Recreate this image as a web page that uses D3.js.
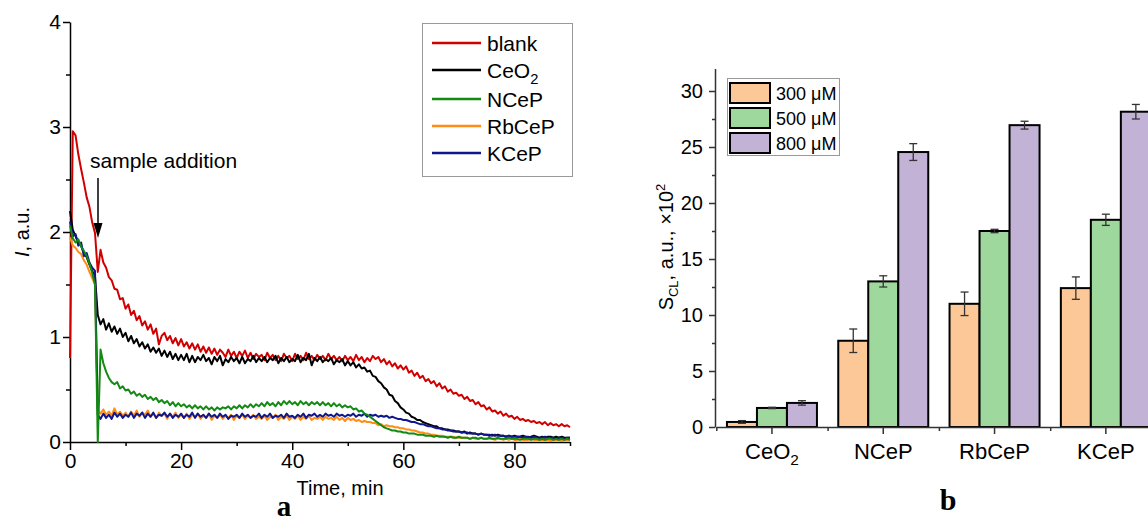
<!DOCTYPE html>
<html>
<head>
<meta charset="utf-8">
<script src="https://cdn.jsdelivr.net/npm/d3@7"></script>
<style>
  body { margin: 0; background: #fff; }
  svg { font-family: "Liberation Sans", Arial, sans-serif; }
</style>
</head>
<body>
<svg id="fig" width="1148" height="524"></svg>
<script>
// ---------- panel a: chemiluminescence kinetics, one reading every 0.5 min ----------
const timeStep = 0.5;

const blank = [
  0.80, 2.96, 2.92, 2.74, 2.60, 2.47, 2.33, 2.24, 2.09, 1.99,
  1.62, 1.83, 1.71, 1.66, 1.57, 1.54, 1.46, 1.45, 1.36, 1.37,
  1.27, 1.31, 1.21, 1.25, 1.16, 1.20, 1.11, 1.15, 1.07, 1.12,
  1.03, 1.08, 0.93, 1.01, 1.04, 0.97, 1.01, 0.94, 0.99, 0.92,
  0.98, 0.91, 0.95, 0.89, 0.94, 0.88, 0.93, 0.86, 0.91, 0.85,
  0.90, 0.84, 0.89, 0.83, 0.88, 0.85, 0.81, 0.88, 0.82, 0.86,
  0.80, 0.86, 0.82, 0.87, 0.80, 0.85, 0.79, 0.84, 0.81, 0.83,
  0.78, 0.85, 0.80, 0.83, 0.78, 0.82, 0.77, 0.84, 0.80, 0.82,
  0.77, 0.84, 0.79, 0.82, 0.78, 0.85, 0.79, 0.82, 0.78, 0.83,
  0.79, 0.82, 0.78, 0.84, 0.79, 0.82, 0.78, 0.81, 0.77, 0.82,
  0.78, 0.81, 0.77, 0.83, 0.78, 0.81, 0.76, 0.80, 0.77, 0.82,
  0.79, 0.81, 0.76, 0.79, 0.74, 0.77, 0.72, 0.75, 0.70, 0.73,
  0.69, 0.72, 0.66, 0.68, 0.63, 0.66, 0.61, 0.63, 0.58, 0.60,
  0.56, 0.58, 0.53, 0.56, 0.51, 0.53, 0.48, 0.50, 0.46, 0.47,
  0.44, 0.45, 0.41, 0.43, 0.39, 0.40, 0.36, 0.38, 0.34, 0.35,
  0.31, 0.33, 0.29, 0.30, 0.27, 0.29, 0.25, 0.27, 0.24, 0.25,
  0.22, 0.24, 0.21, 0.22, 0.20, 0.21, 0.19, 0.20, 0.18, 0.19,
  0.17, 0.19, 0.16, 0.18, 0.16, 0.17, 0.15, 0.17, 0.15, 0.16,
  0.14
];

const ceo2 = [
  2.20, 2.02, 1.96, 1.90, 1.87, 1.80, 1.76, 1.69, 1.63, 1.58,
  1.21, 1.12, 1.17, 1.07, 1.13, 1.05, 1.10, 1.03, 1.08, 1.00,
  1.04, 0.96, 1.01, 0.94, 0.98, 0.91, 0.95, 0.89, 0.93, 0.86,
  0.90, 0.85, 0.89, 0.82, 0.87, 0.81, 0.86, 0.79, 0.84, 0.78,
  0.83, 0.78, 0.84, 0.76, 0.82, 0.76, 0.81, 0.78, 0.83, 0.77,
  0.80, 0.74, 0.81, 0.77, 0.82, 0.73, 0.79, 0.76, 0.81, 0.77,
  0.80, 0.75, 0.81, 0.75, 0.79, 0.77, 0.82, 0.76, 0.80, 0.77,
  0.81, 0.76, 0.80, 0.78, 0.82, 0.75, 0.80, 0.77, 0.81, 0.76,
  0.79, 0.77, 0.83, 0.76, 0.80, 0.78, 0.84, 0.73, 0.80, 0.77,
  0.81, 0.76, 0.79, 0.77, 0.80, 0.74, 0.78, 0.76, 0.79, 0.73,
  0.77, 0.73, 0.76, 0.71, 0.74, 0.70, 0.71, 0.67, 0.68, 0.63,
  0.62, 0.58, 0.56, 0.52, 0.50, 0.45, 0.44, 0.39, 0.37, 0.33,
  0.31, 0.28, 0.27, 0.24, 0.23, 0.21, 0.21, 0.19, 0.18, 0.17,
  0.16, 0.15, 0.15, 0.13, 0.13, 0.12, 0.12, 0.11, 0.11, 0.10,
  0.10, 0.09, 0.10, 0.08, 0.09, 0.08, 0.08, 0.07, 0.08, 0.07,
  0.07, 0.06, 0.07, 0.06, 0.07, 0.06, 0.06, 0.05, 0.06, 0.05,
  0.06, 0.05, 0.05, 0.06, 0.05, 0.04, 0.05, 0.06, 0.05, 0.04,
  0.05, 0.04, 0.05, 0.05, 0.04, 0.05, 0.04, 0.05, 0.04, 0.04,
  0.04
];

const ncep = [
  2.06, 1.94, 1.90, 1.93, 1.86, 1.82, 1.77, 1.70, 1.61, 1.50,
  0.00, 0.88, 0.75, 0.67, 0.61, 0.57, 0.55, 0.57, 0.51, 0.53,
  0.49, 0.50, 0.46, 0.48, 0.44, 0.46, 0.43, 0.45, 0.41, 0.43,
  0.40, 0.42, 0.38, 0.40, 0.37, 0.39, 0.35, 0.38, 0.34, 0.37,
  0.34, 0.36, 0.33, 0.35, 0.32, 0.35, 0.32, 0.34, 0.31, 0.34,
  0.31, 0.33, 0.30, 0.33, 0.31, 0.33, 0.32, 0.34, 0.31, 0.34,
  0.32, 0.35, 0.32, 0.35, 0.33, 0.36, 0.33, 0.36, 0.34, 0.37,
  0.34, 0.38, 0.35, 0.37, 0.34, 0.38, 0.35, 0.39, 0.36, 0.39,
  0.36, 0.38, 0.35, 0.39, 0.36, 0.38, 0.35, 0.38, 0.36, 0.38,
  0.35, 0.38, 0.35, 0.37, 0.34, 0.37, 0.34, 0.36, 0.33, 0.35,
  0.33, 0.34, 0.31, 0.32, 0.29, 0.30, 0.27, 0.26, 0.24, 0.22,
  0.20, 0.18, 0.16, 0.14, 0.13, 0.12, 0.11, 0.11, 0.10, 0.10,
  0.09, 0.09, 0.08, 0.08, 0.08, 0.07, 0.07, 0.07, 0.06, 0.06,
  0.06, 0.05, 0.06, 0.05, 0.05, 0.05, 0.04, 0.05, 0.04, 0.04,
  0.05, 0.04, 0.04, 0.04, 0.03, 0.04, 0.04, 0.03, 0.04, 0.03,
  0.03, 0.04, 0.03, 0.03, 0.04, 0.03, 0.03, 0.03, 0.04, 0.03,
  0.03, 0.03, 0.02, 0.03, 0.03, 0.03, 0.02, 0.03, 0.03, 0.02,
  0.03, 0.02, 0.03, 0.03, 0.02, 0.03, 0.02, 0.03, 0.02, 0.03,
  0.02
];

const rbcep = [
  1.95, 1.87, 1.85, 1.81, 1.79, 1.73, 1.69, 1.62, 1.56, 1.50,
  0.30, 0.27, 0.31, 0.26, 0.29, 0.25, 0.32, 0.26, 0.29, 0.25,
  0.28, 0.24, 0.29, 0.25, 0.30, 0.24, 0.28, 0.26, 0.30, 0.24,
  0.27, 0.23, 0.28, 0.25, 0.27, 0.22, 0.27, 0.24, 0.28, 0.23,
  0.26, 0.23, 0.27, 0.22, 0.26, 0.24, 0.27, 0.22, 0.25, 0.23,
  0.27, 0.21, 0.25, 0.23, 0.26, 0.22, 0.25, 0.23, 0.26, 0.21,
  0.25, 0.23, 0.26, 0.22, 0.25, 0.23, 0.26, 0.22, 0.24, 0.22,
  0.25, 0.21, 0.24, 0.23, 0.26, 0.21, 0.24, 0.22, 0.25, 0.21,
  0.24, 0.22, 0.25, 0.21, 0.24, 0.22, 0.25, 0.21, 0.23, 0.22,
  0.24, 0.21, 0.24, 0.22, 0.23, 0.21, 0.24, 0.21, 0.23, 0.20,
  0.23, 0.21, 0.22, 0.20, 0.21, 0.19, 0.20, 0.19, 0.19, 0.18,
  0.18, 0.16, 0.17, 0.15, 0.16, 0.15, 0.15, 0.14, 0.14, 0.13,
  0.13, 0.12, 0.12, 0.11, 0.11, 0.10, 0.09, 0.09, 0.08, 0.08,
  0.07, 0.07, 0.06, 0.06, 0.06, 0.05, 0.05, 0.05, 0.05, 0.04,
  0.04, 0.04, 0.04, 0.04, 0.03, 0.04, 0.03, 0.03, 0.04, 0.03,
  0.03, 0.03, 0.03, 0.02, 0.03, 0.03, 0.02, 0.03, 0.02, 0.03,
  0.02, 0.02, 0.03, 0.02, 0.02, 0.02, 0.03, 0.02, 0.02, 0.02,
  0.02, 0.02, 0.02, 0.01, 0.02, 0.02, 0.02, 0.01, 0.02, 0.02,
  0.02
];

const kcep = [
  2.10, 1.96, 1.98, 1.87, 1.90, 1.77, 1.80, 1.71, 1.66, 1.63,
  0.26, 0.22, 0.27, 0.23, 0.26, 0.22, 0.28, 0.24, 0.27, 0.23,
  0.26, 0.24, 0.28, 0.23, 0.27, 0.25, 0.28, 0.23, 0.27, 0.24,
  0.28, 0.23, 0.26, 0.25, 0.28, 0.24, 0.27, 0.23, 0.26, 0.24,
  0.27, 0.23, 0.26, 0.24, 0.28, 0.23, 0.27, 0.24, 0.26, 0.23,
  0.27, 0.24, 0.26, 0.23, 0.27, 0.24, 0.26, 0.22, 0.25, 0.24,
  0.26, 0.23, 0.27, 0.24, 0.26, 0.23, 0.25, 0.24, 0.27, 0.23,
  0.26, 0.24, 0.27, 0.23, 0.25, 0.24, 0.26, 0.23, 0.27, 0.24,
  0.25, 0.23, 0.26, 0.24, 0.27, 0.23, 0.26, 0.25, 0.27, 0.24,
  0.26, 0.24, 0.27, 0.25, 0.26, 0.24, 0.27, 0.25, 0.26, 0.24,
  0.26, 0.25, 0.27, 0.24, 0.26, 0.25, 0.27, 0.24, 0.26, 0.25,
  0.26, 0.24, 0.25, 0.24, 0.25, 0.23, 0.24, 0.23, 0.22, 0.22,
  0.21, 0.21, 0.20, 0.19, 0.19, 0.18, 0.17, 0.17, 0.16, 0.15,
  0.15, 0.14, 0.13, 0.13, 0.12, 0.12, 0.11, 0.11, 0.10, 0.10,
  0.10, 0.09, 0.09, 0.09, 0.08, 0.08, 0.08, 0.07, 0.08, 0.07,
  0.07, 0.07, 0.06, 0.07, 0.06, 0.06, 0.06, 0.05, 0.06, 0.05,
  0.05, 0.05, 0.05, 0.04, 0.05, 0.05, 0.04, 0.05, 0.04, 0.04,
  0.04, 0.05, 0.04, 0.04, 0.04, 0.03, 0.04, 0.04, 0.03, 0.04,
  0.04
];

const seriesNames = ["blank", "CeO2", "NCeP", "RbCeP", "KCeP"];
const seriesValues = [blank, ceo2, ncep, rbcep, kcep];
const seriesColors = ["#d10000", "#000000", "#138a13", "#ff8c14", "#10168c"];
const drawOrder = [0, 1, 3, 4, 2];

const timeTicks = [0, 20, 40, 60, 80];
const intensityTicks = [0, 1, 2, 3, 4];

// ---------- panel b: integral chemiluminescence ----------
const samples = ["CeO2", "NCeP", "RbCeP", "KCeP"];
const concentrations = ["300 μM", "500 μM", "800 μM"];
const s300 = [0.45, 7.7, 11.0, 12.4];
const s500 = [1.7, 13.0, 17.5, 18.5];
const s800 = [2.15, 24.55, 26.95, 28.15];
const err300 = [0.12, 1.05, 1.05, 1.0];
const err500 = [0.06, 0.5, 0.15, 0.5];
const err800 = [0.2, 0.75, 0.35, 0.65];
const barColors = ["#fdc897", "#9ed89c", "#c2b2d6"];
const sTicks = [0, 5, 10, 15, 20, 25, 30];

const svg = d3.select("#fig");

// text like "CeO2" -> CeO with subscript 2
function chemText(sel, label, size) {
  const m = label.match(/^(.*?)(\d+)$/);
  sel.text(null);
  if (!m) { sel.text(label); return; }
  sel.append("tspan").text(m[1]);
  sel.append("tspan").attr("dy", size * 0.3).attr("font-size", size * 0.7).text(m[2]);
}

function styleAxis(g, color, size) {
  g.select(".domain").attr("stroke", color).attr("stroke-width", 1.5);
  g.selectAll(".tick line").attr("stroke", color).attr("stroke-width", 1.5);
  g.selectAll(".tick text").attr("fill", "#000").attr("font-size", size)
    .attr("font-family", "Liberation Sans, Arial, sans-serif");
}

// ================= panel a =================
const xA = d3.scaleLinear().domain([0, 90]).range([70, 570]);
const yA = d3.scaleLinear().domain([0, 4]).range([442, 22]);

const pa = svg.append("g");

pa.append("g").attr("transform", "translate(0,442)")
  .call(d3.axisBottom(xA).tickValues([10, 30, 50, 70, 90]).tickSize(4).tickSizeOuter(0).tickFormat(""))
  .call(g => g.select(".domain").remove())
  .call(g => styleAxis(g, "#000", 21));
pa.append("g").attr("transform", "translate(0,442)")
  .call(d3.axisBottom(xA).tickValues(timeTicks).tickSize(8).tickSizeOuter(0).tickPadding(3)
    .tickFormat(d3.format("d")))
  .call(g => styleAxis(g, "#000", 21));

pa.append("g").attr("transform", "translate(70,0)")
  .call(d3.axisLeft(yA).tickValues([0.5, 1.5, 2.5, 3.5]).tickSize(4).tickSizeOuter(0).tickFormat(""))
  .call(g => g.select(".domain").remove())
  .call(g => styleAxis(g, "#000", 21));
pa.append("g").attr("transform", "translate(70,0)")
  .call(d3.axisLeft(yA).tickValues(intensityTicks).tickSize(7).tickSizeOuter(0).tickPadding(2)
    .tickFormat(d3.format("d")))
  .call(g => styleAxis(g, "#000", 21));

const line = d3.line()
  .x((d, i) => xA(i * timeStep))
  .y(d => yA(d));

pa.append("g")
  .selectAll("path")
  .data(drawOrder)
  .join("path")
  .attr("d", k => line(seriesValues[k]))
  .attr("fill", "none")
  .attr("stroke", k => seriesColors[k])
  .attr("stroke-width", 2)
  .attr("stroke-linejoin", "round");

// annotation
pa.append("text").attr("x", 90).attr("y", 168).attr("font-size", 21).text("sample addition");
pa.append("line").attr("x1", 98).attr("x2", 98).attr("y1", 178).attr("y2", 225)
  .attr("stroke", "#000").attr("stroke-width", 1.5);
pa.append("path").attr("d", "M93.5,223 L102.5,223 L98,238 Z").attr("fill", "#000");

// axis titles
pa.append("text").attr("x", 340).attr("y", 495).attr("text-anchor", "middle")
  .attr("font-size", 20).text("Time, min");
const yTitleA = pa.append("text").attr("transform", "translate(29,232) rotate(-90)")
  .attr("text-anchor", "middle").attr("font-size", 20);
yTitleA.append("tspan").attr("font-style", "italic").text("I");
yTitleA.append("tspan").text(", a.u.");

pa.append("text").attr("x", 284).attr("y", 516).attr("text-anchor", "middle")
  .attr("font-family", "Liberation Serif, Times New Roman, serif")
  .attr("font-weight", "bold").attr("font-size", 29).text("a");

// legend a
const legA = pa.append("g");
legA.append("rect").attr("x", 422.5).attr("y", 23.5).attr("width", 150).attr("height", 153)
  .attr("fill", "#fff").attr("stroke", "#999").attr("stroke-width", 1);
const legRowsA = [43, 70, 99, 126, 153];
seriesNames.forEach((name, i) => {
  legA.append("line").attr("x1", 432).attr("x2", 481)
    .attr("y1", legRowsA[i]).attr("y2", legRowsA[i])
    .attr("stroke", seriesColors[i]).attr("stroke-width", 2.5);
  legA.append("text").attr("x", 487).attr("y", legRowsA[i] + 8).attr("font-size", 21)
    .call(t => chemText(t, name, 21));
});

// ================= panel b =================
const xB = d3.scaleBand().domain(samples).range([716.3, 716.3 + 4 * 111.3]);
const xInner = d3.scaleBand().domain(concentrations).range([0, 90]);
const yB = d3.scaleLinear().domain([0, 32]).range([427, 68.6]);
const axisColor = "#333";

const pb = svg.append("g");

const barData = [];
samples.forEach((s, i) => {
  [s300, s500, s800].forEach((arr, j) => {
    const errs = [err300, err500, err800][j];
    barData.push({ sample: s, conc: concentrations[j], v: arr[i], e: errs[i], c: j });
  });
});

const bx = d => xB(d.sample) + xB.bandwidth() / 2 - 45 + xInner(d.conc);

pb.append("g")
  .selectAll("rect")
  .data(barData)
  .join("rect")
  .attr("x", bx)
  .attr("width", xInner.bandwidth())
  .attr("y", d => yB(d.v))
  .attr("height", d => yB(0) - yB(d.v))
  .attr("fill", d => barColors[d.c])
  .attr("stroke", "#000")
  .attr("stroke-width", 2);

const eb = pb.append("g").attr("stroke", "#333").attr("stroke-width", 1.3);
barData.forEach(d => {
  const cx = bx(d) + xInner.bandwidth() / 2;
  eb.append("line").attr("x1", cx).attr("x2", cx).attr("y1", yB(d.v - d.e)).attr("y2", yB(d.v + d.e));
  eb.append("line").attr("x1", cx - 4).attr("x2", cx + 4).attr("y1", yB(d.v - d.e)).attr("y2", yB(d.v - d.e));
  eb.append("line").attr("x1", cx - 4).attr("x2", cx + 4).attr("y1", yB(d.v + d.e)).attr("y2", yB(d.v + d.e));
});

// axes b
const edgeScale = d3.scaleLinear().domain([0, 4]).range(xB.range());
pb.append("g").attr("transform", "translate(0,427)")
  .call(d3.axisBottom(edgeScale).tickValues([0, 1, 2, 3]).tickSize(4).tickSizeOuter(0).tickFormat(""))
  .call(g => g.select(".domain").remove())
  .call(g => styleAxis(g, axisColor, 22));
pb.append("g").attr("transform", "translate(0,427)")
  .call(d3.axisBottom(xB).tickSize(7).tickSizeOuter(0).tickPadding(9))
  .call(g => styleAxis(g, axisColor, 22))
  .call(g => g.selectAll(".tick text").each(function (d) { chemText(d3.select(this), d, 22); }));

pb.append("g").attr("transform", "translate(715,0)")
  .call(d3.axisLeft(yB).tickValues([2.5, 7.5, 12.5, 17.5, 22.5, 27.5]).tickSize(3).tickSizeOuter(0).tickFormat(""))
  .call(g => g.select(".domain").remove())
  .call(g => styleAxis(g, axisColor, 20));
pb.append("g").attr("transform", "translate(715,0)")
  .call(d3.axisLeft(yB).tickValues(sTicks).tickSize(6).tickSizeOuter(0).tickPadding(6)
    .tickFormat(d3.format("d")))
  .call(g => styleAxis(g, axisColor, 20));

const yTitleB = pb.append("text").attr("transform", "translate(673,247) rotate(-90)")
  .attr("text-anchor", "middle").attr("font-size", 20);
yTitleB.append("tspan").text("S");
yTitleB.append("tspan").attr("dy", 5).attr("font-size", 13).text("CL");
yTitleB.append("tspan").attr("dy", -5).text(", a.u., ×10");
yTitleB.append("tspan").attr("dy", -8).attr("font-size", 13).text("2");

pb.append("text").attr("x", 948).attr("y", 510).attr("text-anchor", "middle")
  .attr("font-family", "Liberation Serif, Times New Roman, serif")
  .attr("font-weight", "bold").attr("font-size", 30).text("b");

// legend b
const legB = pb.append("g");
legB.append("rect").attr("x", 727.5).attr("y", 78.5).attr("width", 112).attr("height", 77)
  .attr("fill", "#fff").attr("stroke", "#999").attr("stroke-width", 1);
concentrations.forEach((c, i) => {
  const y0 = 83 + i * 25;
  legB.append("rect").attr("x", 730).attr("y", y0).attr("width", 40).attr("height", 20)
    .attr("fill", barColors[i]).attr("stroke", "#000").attr("stroke-width", 2);
  legB.append("text").attr("x", 776).attr("y", y0 + 17).attr("font-size", 18).text(c);
});
</script>
</body>
</html>
